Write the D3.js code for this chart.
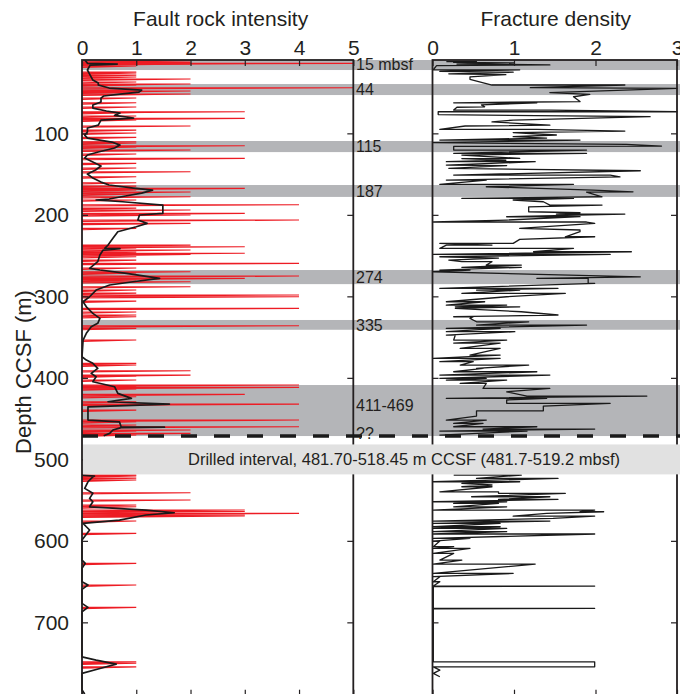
<!DOCTYPE html>
<html><head><meta charset="utf-8">
<script src="https://cdn.jsdelivr.net/npm/d3@7"></script>
<style>
html,body{margin:0;padding:0;background:#fff;}
svg{display:block;font-family:"Liberation Sans",Arial,Helvetica,sans-serif;}
</style></head>
<body><svg id="chart" width="680" height="694"></svg>
<script>
// ---------- data ----------
const depthTicks = [100,200,300,400,500,600,700];
const faultTicks = [0,1,2,3,4,5];
const fracTicks = [0,1,2,3];

// Fault rock intensity samples (depth m CCSF, intensity)
const faultDepth = [11.3,13,14.1,15,17.4,24.8,26,28.5,30.9,33.4,37,39.5,40.7,44,46.9,48.1,49.3,51.8,56.7,62.5,67.7,73.5,74.5,78.8,81.6,83.7,91,96,99.6,104.9,110.3,111.9,115.2,116.8,120.5,125.4,130.7,136.8,142.6,147.1,153.3,160.6,164.7,167.5,169.6,172,174.5,177.8,181.8,187.6,191.7,194.1,198.2,200.2,206.4,210.4,216.6,237.1,239.1,240.7,243.2,245.7,247.2,248.7,251.4,255.5,259.5,265.3,269.8,271.4,275.1,277.9,280,282.1,288.2,292.3,296,298.4,300.5,305.8,314.7,319.2,322.9,325,336.1,339.3,353.6,382.2,384.3,391.3,396.6,397.8,402.7,408.8,410.1,411.7,413.7,420.3,423.2,429.3,432.2,439.6,451.8,453.9,457.9,460,464,465.3,468.1,470.2,
  519.3,520.5,523,525.4,541,549.9,556.1,558.2,562.2,564,566.3,568.3,569.6,575.7,590.8,627.6,654.2,681.6,748.4,750,754.6];
const faultValue = [2,2,5,2,1,1,1,1,1,2,1,2,1,5,1,2,1,2,1,1,1,3,1,1,3,1,2,1,1,1,1,1,3,1,2,1,3,1,1,2,1,1,1,3,1,2,1,2,1,4,1,2,3,2,4,2,1,2,3,1,2,1,3,2,1,1,4,1,2,1,4,3,1,2,2,1,1,4,4,1,4,1,1,1,4,1,1,1,1,2,2,1,1,4,1,4,1,3,1,1,4,1,4,1,1,4,2,1,2,1,
  1,1,1,1,2,2,1,1,3,3,4,3,3,1,1,1,1,1,1,1,1];

// Running average of fault rock intensity
const avgDepth = [10.1,12.1,14.1,15,16.2,22.3,28.5,34.6,38.3,40.7,44.4,46.9,49.3,51.8,54.2,56.7,61.6,65.3,69,72.6,75.1,78,81.2,83.7,89.9,93.5,98.4,102.1,105.8,110.7,114.4,118,122.9,126.6,130.3,135.2,140.1,145,149.9,154.9,159.8,163.4,167.1,169.6,173.3,176.9,180.6,181.8,183.9,188,198.2,200.2,206.4,210.4,214.6,220.7,228.8,237.1,241,241.5,243.2,249.3,257.5,265.6,267.7,271.8,277.9,282.1,286.1,292.3,300.5,306.6,312.8,320.9,327,333.1,337.3,345.4,353.6,374.1,378.2,382.2,388.4,394.5,398.7,404.8,410.9,419,425.2,429.3,432.2,435.5,451.8,453.9,460,460.5,461,464,468.1,471,
  519.3,520.5,521.4,527.5,535.6,541.7,547.9,552,558.2,562.2,565.5,568.3,574.5,578.5,582.7,586.7,599,623.6,627.6,633.7,650.2,654.2,659.5,676.7,681.6,687,742.3,746.4,751.3,756.6,762.6,783,788];
const avgValue = [0.05,0.08,0.1,0.65,0.15,0.1,0.15,0.2,0.3,0.3,0.5,1.1,1.05,0.7,0.4,0.35,0.35,0.2,0.2,0.45,0.7,0.6,0.95,0.35,0.3,0.1,0.1,0.05,0.1,0.55,0.7,0.6,0.3,0.1,0.05,0.2,0.35,0.25,0.1,0.2,0.35,0.5,0.95,1.3,1.1,0.8,0.5,0.26,0.75,1.49,1.49,1.06,1.03,1.2,1.0,0.66,0.57,0.48,0.42,0.7,0.39,0.33,0.29,0.14,0.33,0.82,1.43,0.94,0.51,0.26,0.14,0.02,0.08,0.2,0.33,0.29,0.17,0.08,0.02,0,0.08,0.2,0.29,0.17,0.26,0.2,0.6,0.66,0.91,0.48,1.61,0.11,0.11,0.69,0.72,1.52,0.72,0.57,0.51,0.4,
  0.0,0.23,0.2,0.11,0.05,0.2,0.14,0.2,0.14,1.18,1.7,1.18,0.69,0.02,0.08,0.14,0,0,0.06,0,0,0.11,0,0,0.11,0,0,0.26,0.63,0.33,0,0,0.05];

// Fracture density trace (depth m CCSF, density)
const fracDepth = [12,12,13,13.5,15,16,17,22,22,24,25,27,28,30.6,33.7,40.7,40.7,44,44.8,50,52.1,55.1,61,62.5,62.5,65,67.4,68,71.4,71.4,73.5,73.5,77,79.6,83.7,86,89.9,91,95.1,95.1,97.2,99,102,104,105.8,108.2,108.2,111.5,113.5,115.6,116,120.5,120.5,124.5,124.5,126.6,130.7,131,133,134.8,134.8,138.9,139.5,142.9,145.9,151.2,151.2,153.3,157.3,157.3,162.6,162.6,165.5,169.6,171.7,172,177.8,179.8,179.8,
  181.8,183.9,188,188,190.1,196.2,197.4,199,199,202.3,202.3,206.4,208.8,208.8,210.4,216.6,218.6,220.7,226.9,226.9,230.1,235,235,237.1,237.1,241.1,241.1,245.3,245.3,248.5,248.5,251.4,253,255.5,257.5,257.5,261.6,261.6,264.4,264.4,267.7,267.7,269.8,276,277.9,277.9,284,284,290.2,290.2,292.3,292.3,296.3,296.3,300.5,306.6,306.6,310.7,310.7,312.8,312.8,314.7,318.9,322.9,325,325,327,331.2,331.2,335.2,335.2,339.3,339.3,343.4,343.4,347.5,347.5,
  353.6,353.6,357.3,357.3,363.8,363.8,372,372,376.1,376.1,380.2,380.2,384.3,384.3,388.4,388.4,392.5,392.5,396.6,396.6,400.6,400.6,402.7,402.7,406.8,406.8,412.9,412.9,417.1,422.3,422.3,425.2,425.2,427.2,431.3,431.3,434.6,440.4,440.4,446.9,451.8,451.8,455.8,455.8,460,460,462.8,462.8,465.3,465.3,470.2,470.2,
  519.3,519.3,523.4,523.4,527.5,527.5,529.4,531.5,533.6,533.6,539.8,539.8,541.7,541.7,545.9,545.9,549.1,549.1,552,552,554,554,558.2,558.2,562.2,562.2,564.3,564.3,566.3,569.6,569.6,572.4,575.7,575.7,578.5,578.5,582.7,582.7,584.7,584.7,588.8,588.8,591.6,591.6,596.9,596.9,600.3,600.3,607.2,607.2,609.2,609.2,615.4,615.4,623.6,623.6,628.5,628.5,639.9,639.9,644,644,650.2,650.2,655.5,655.5,656,682.8,682.8,683.3,748.4,748.4,754.6,754.6,758.6,762.6,766.7];
const fracValue = [0.17,0.54,0.26,1.0,0.3,1.44,0.05,0.01,1.07,0.09,0.99,0.2,0.9,0.46,0.46,0.73,2.36,1.2,3.0,1.44,1.93,1.73,1.81,0.26,1.28,0.6,0.64,0.3,0.26,1.44,3.0,0.07,0.07,2.67,0.99,0.73,1.44,0.4,0.09,1.28,2.36,0.99,1.52,0.99,1.4,0.09,1.81,0.01,2.38,2.81,0.26,0.26,1.89,0.26,1.89,0.36,1.07,0.36,0.9,0.17,1.26,0.17,0.91,0.2,2.55,0.26,2.18,2.3,0.17,0.66,0.09,1.73,0.66,1.97,2.46,1.89,2.08,0.36,1.73,
  0.99,1.36,1.44,2.08,1.18,1.18,1.81,1.52,2.36,0.91,1.81,0.91,0.01,1.89,1.99,1.07,1.81,1.81,1.63,1.99,1.07,0.99,0.09,0.73,0.17,0.09,1.73,1.24,2.44,0.01,2.18,0.09,0.81,0.2,0.36,0.73,0.66,1.09,0.36,1.09,0.09,0.46,0.01,2.55,1.28,1.91,1.91,1.99,0.09,1.54,0.54,1.07,0.36,1.63,0.91,0.17,0.64,0.17,0.91,0.28,1.07,0.28,1.09,1.54,0.26,0.5,0.46,0.54,1.18,0.54,1.89,0.17,0.83,0.17,1.01,0.17,0.28,
  0.26,0.91,0.26,0.83,0.34,0.83,0.46,0.83,0.01,0.83,0.09,0.5,0.34,1.18,0.54,0.62,0.26,1.28,0.09,1.44,0.09,0.66,0.17,0.91,0.34,0.66,0.62,1.44,0.91,1.16,2.63,0.17,1.4,0.91,0.91,2.18,1.36,1.36,0.54,0.54,0.17,0.66,0.26,0.62,0.26,1.28,0.62,1.99,0.09,1.16,0.09,0.26,
  0.26,1.09,0.54,1.54,0.01,1.07,0.36,0.73,0.36,0.73,0.09,0.81,0.81,1.63,0.48,1.44,0.81,1.54,0.01,0.91,0.26,0.81,0.26,0.91,0.01,1.99,1.81,2.1,1.4,0.99,1.99,1.48,0.01,1.44,0.01,0.83,0.01,0.83,0.01,0.91,0.01,0.91,0.01,1.99,0.01,0.46,0.01,0.09,0.01,0.26,0.01,0.46,0.01,0.26,0.09,0.36,0.01,1.26,0.01,0.99,0.01,0.09,0.01,0.09,0.01,1.99,0.01,0.01,1.99,0.01,0.01,1.99,1.99,0.01,0.09,0.01,0.09];

// Highlighted fault zones
const bandTop = [10,39.5,109.4,163.4,267.7,329,408.8];
const bandBottom = [22.3,53,123,178,285,341,471.4];
const bandLabel = ["15 mbsf","44","115","187","274","335","411-469"];
const faultBaseDepth = 471.4;
const drilledTop = 481.7, drilledBottom = 518.45;
const drilledText = "Drilled interval, 481.70-518.45 m CCSF (481.7-519.2 mbsf)";

// ---------- layout ----------
const W = 680, H = 694;
const plotTop = 60, plotBottom = 695.7;
const svg = d3.select("#chart");
const y = d3.scaleLinear().domain([10,790]).range([plotTop,plotBottom]);
const xL = d3.scaleLinear().domain([0,5]).range([82,353.3]);
const xR = d3.scaleLinear().domain([0,3]).range([432.5,677]);
const ink = "#231f20";

svg.append("defs").append("clipPath").attr("id","clipAll")
  .append("rect").attr("x",0).attr("y",plotTop).attr("width",W).attr("height",plotBottom-plotTop);

// gray bands
const gBands = svg.append("g").attr("clip-path","url(#clipAll)");
gBands.selectAll("rect").data(bandTop).join("rect")
  .attr("x",xL(0)).attr("width",W-xL(0))
  .attr("y",(d)=>y(d)).attr("height",(d,i)=>y(bandBottom[i])-y(d))
  .attr("fill","#b4b5b8");

// data
const inUpper = d=>d<drilledTop, inLower = d=>d>drilledBottom;
const lineL = d3.line().x(p=>xL(p[0])).y(p=>y(p[1]));
const lineR = d3.line().x(p=>xR(p[0])).y(p=>y(p[1]));
const gData = svg.append("g").attr("clip-path","url(#clipAll)");
// each fault-rock sample: horizontal stroke out to its value with a thin return wedge
gData.selectAll("path.spike").data(faultDepth).join("path").attr("class","spike")
  .attr("d",(d,i)=>lineL([[0,d],[faultValue[i],d],[0,d+1.6]]))
  .attr("fill","none").attr("stroke","#ed1c24").attr("stroke-width",1.1)
  .attr("stroke-linejoin","miter");
[inUpper,inLower].forEach(f=>{
  const pts = avgDepth.map((d,i)=>[avgValue[i],d]).filter(p=>f(p[1]));
  gData.append("path").attr("d",lineL(pts))
    .attr("fill","none").attr("stroke","#1a1a1a").attr("stroke-width",1.7).attr("stroke-linejoin","round");
});
[inUpper,inLower].forEach(f=>{
  const pts = fracDepth.map((d,i)=>[fracValue[i],d]).filter(p=>f(p[1]));
  gData.append("path").attr("d",lineR(pts))
    .attr("fill","none").attr("stroke","#1a1a1a").attr("stroke-width",1.3).attr("stroke-linejoin","round");
});

// frames and axes
function frame(x){
  svg.append("rect").attr("x",x.range()[0]).attr("y",plotTop)
    .attr("width",x.range()[1]-x.range()[0]).attr("height",plotBottom-plotTop)
    .attr("fill","none").attr("stroke",ink).attr("stroke-width",1.8);
}
frame(xL); frame(xR);

function styleAxis(g){
  g.select(".domain").remove();
  g.selectAll(".tick line").attr("stroke",ink).attr("stroke-width",1.2);
  g.selectAll(".tick text").attr("fill",ink).style("font-size","21px")
    .style("font-family","'Liberation Sans',Arial,sans-serif");
}
svg.append("g").attr("transform",`translate(0,${plotTop})`)
  .call(d3.axisTop(xL).tickValues(faultTicks).tickFormat(d3.format("d")).tickSize(-6).tickPadding(5)).call(styleAxis);
svg.append("g").attr("transform",`translate(0,${plotTop})`)
  .call(d3.axisTop(xR).tickValues(fracTicks).tickFormat(d3.format("d")).tickSize(-6).tickPadding(5)).call(styleAxis);
svg.append("g").attr("transform",`translate(0,${plotBottom})`)
  .call(d3.axisBottom(xL).tickValues(faultTicks).tickFormat("").tickSize(-6)).call(styleAxis);
svg.append("g").attr("transform",`translate(0,${plotBottom})`)
  .call(d3.axisBottom(xR).tickValues(fracTicks).tickFormat("").tickSize(-6)).call(styleAxis);
svg.append("g").attr("transform",`translate(${xL(0)},0)`)
  .call(d3.axisLeft(y).tickValues(depthTicks).tickFormat(d3.format("d")).tickSize(-6).tickPadding(13)).call(styleAxis);
svg.append("g").attr("transform",`translate(${xL(5)},0)`)
  .call(d3.axisRight(y).tickValues(depthTicks).tickFormat("").tickSize(-6)).call(styleAxis);
svg.append("g").attr("transform",`translate(${xR(0)},0)`)
  .call(d3.axisLeft(y).tickValues(depthTicks).tickFormat("").tickSize(-6)).call(styleAxis);
svg.append("g").attr("transform",`translate(${xR(3)},0)`)
  .call(d3.axisRight(y).tickValues(depthTicks).tickFormat("").tickSize(-6)).call(styleAxis);

// dashed line at base of fault zone
svg.append("line").attr("x1",xL(0)).attr("x2",W)
  .attr("y1",y(faultBaseDepth)).attr("y2",y(faultBaseDepth))
  .attr("stroke","#1a1a1a").attr("stroke-width",3.5).attr("stroke-dasharray","16,17");

// drilled interval band
svg.append("rect").attr("x",xL(0)+1).attr("width",W-xL(0)-1)
  .attr("y",y(drilledTop)).attr("height",y(drilledBottom)-y(drilledTop))
  .attr("fill","#e1e1e1");
svg.append("text").attr("x",404).attr("y",(y(drilledTop)+y(drilledBottom))/2).attr("dy","0.35em")
  .attr("text-anchor","middle").style("font-size","16.5px").attr("fill",ink).text(drilledText);

// band labels
svg.selectAll("text.blab").data(bandLabel).join("text").attr("class","blab")
  .attr("x",356).attr("y",(d,i)=> i===0 ? y(bandTop[i])+4 : i===6 ? y(bandTop[i])+20 : (y(bandTop[i])+y(bandBottom[i]))/2)
  .attr("dy","0.36em").style("font-size","16px").attr("fill",ink).text(d=>d);
svg.append("text").attr("x",356).attr("y",y(467.5)).attr("dy","0.36em")
  .style("font-size","16px").attr("fill",ink).text("??");

// titles
svg.append("text").attr("x",(xL(0)+xL(5))/2+3).attr("y",26).attr("text-anchor","middle")
  .style("font-size","21px").attr("fill",ink).text("Fault rock intensity");
svg.append("text").attr("x",(xR(0)+xR(3))/2+1).attr("y",26).attr("text-anchor","middle")
  .style("font-size","21px").attr("fill",ink).text("Fracture density");
svg.append("text").attr("transform","translate(31,372) rotate(-90)").attr("text-anchor","middle")
  .style("font-size","22px").attr("fill",ink).text("Depth CCSF (m)");
</script></body></html>
